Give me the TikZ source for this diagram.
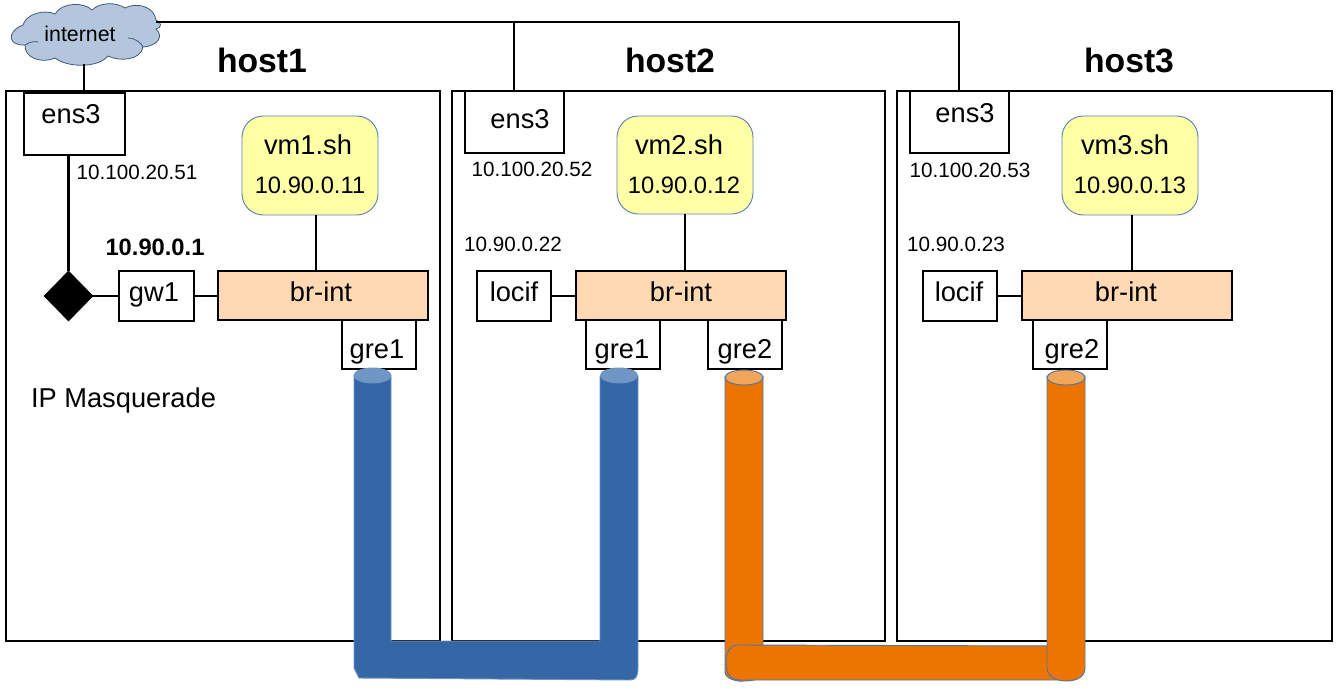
\documentclass[tikz,border=0pt]{standalone}
\usepackage{fontspec}
\setmainfont{Liberation Sans}
\usetikzlibrary{shapes.geometric}
\definecolor{bluetube}{HTML}{3566A5}
\definecolor{bluetop}{HTML}{7096C6}
\definecolor{bluerim}{HTML}{6F94C4}
\definecolor{orangetube}{HTML}{EB7500}
\definecolor{orangetop}{HTML}{F2A65A}
\definecolor{orangerim}{HTML}{4A76A8}
\definecolor{cloudfill}{HTML}{B3C6DE}
\definecolor{cloudline}{HTML}{3F5A7A}
\definecolor{vmfill}{HTML}{FFFFA6}
\definecolor{vmline}{HTML}{5B83B5}
\definecolor{brfill}{HTML}{FFD9B3}
\tikzset{
  bxbase/.style={draw=black,line width=1.1pt,inner sep=0pt,outer sep=0pt},
  plainbox/.style={bxbase,fill=white},
  hostbox/.style={bxbase,fill=none},
  brbox/.style={bxbase,fill=brfill},
  vmbox/.style={draw=vmline,line width=0.7pt,fill=vmfill,rounded corners=16pt,inner sep=0pt,outer sep=0pt},
  conn/.style={draw=black,line width=2pt},
  txtbase/.style={anchor=base,inner sep=0pt,text=black},
  lab/.style={txtbase,font=\fontsize{20.45pt}{24pt}\selectfont},
  ip/.style={txtbase,font=\fontsize{15.5pt}{18pt}\selectfont},
  vmip/.style={txtbase,font=\fontsize{17.8pt}{20pt}\selectfont},
  hostlab/.style={txtbase,font=\fontsize{25.3pt}{28pt}\selectfont\bfseries},
}
\newcommand{\bx}[6]{\node[#1,minimum width={(#4-#2)*0.75pt},minimum height={(#5-#3)*0.75pt}] (#6) at ({(#2+#4)/2},{(#3+#5)/2}) {};}
\begin{document}
\begin{tikzpicture}[x=0.75pt,y=-0.75pt]
\path[use as bounding box,fill=white] (0,0) rectangle (1344,691);

% host frames
\bx{hostbox}{6}{91}{440}{641}{host1}
\bx{hostbox}{452}{91}{885}{641}{host2}
\bx{hostbox}{897}{91}{1332}{641}{host3}

% cloud
\draw[draw=cloudline,line width=0.6pt,fill=cloudfill]
  (23,25) .. controls (26,14) and (44,9) .. (55,14)
  .. controls (62,2) and (84,2) .. (92,10)
  .. controls (100,2) and (116,2) .. (125,8)
  .. controls (136,2) and (154,6) .. (156,20)
  .. controls (162,22) and (162,28) .. (156,29)
  .. controls (164,36) and (158,46) .. (143,47)
  .. controls (141,60) and (120,62) .. (108,56)
  .. controls (98,68) and (68,68) .. (55,58)
  .. controls (42,64) and (24,58) .. (25,45)
  .. controls (8,46) and (6,32) .. (23,25) -- cycle;
\draw[draw=cloudline,line width=0.6pt] (25,45) .. controls (30,42) and (34,41) .. (38,42);
\draw[draw=cloudline,line width=0.6pt] (128,38) .. controls (136,38) and (142,44) .. (143,47);
\node[txtbase,font=\fontsize{16pt}{18pt}\selectfont] (internet) at (80,42) {internet};
\node[hostlab] (hostA) at (262,73) {host1};
\node[hostlab] (hostB) at (670,73) {host2};
\node[hostlab] (hostC) at (1129,73) {host3};

% boxes
\bx{plainbox}{24}{93}{125}{155}{ensA}
\bx{plainbox}{465}{91}{564}{153}{ensB}
\bx{plainbox}{910}{91}{1009}{153}{ensC}
\node[draw=black,fill=black,diamond,aspect=1,inner sep=0pt,outer sep=0pt,minimum width=36.75pt,minimum height=37.5pt] (masq) at (68.5,296) {};
\bx{plainbox}{119}{271}{194}{321}{gwA}
\bx{brbox}{218}{271}{428}{320}{brA}
\bx{plainbox}{342}{320}{416}{369}{greA}
\bx{vmbox}{242}{116}{378}{215}{vmA}
\bx{plainbox}{477}{271}{551}{321}{locB}
\bx{brbox}{576}{271}{786}{320}{brB}
\bx{plainbox}{586}{320}{660}{369}{greBa}
\bx{plainbox}{708}{320}{782}{369}{greBb}
\bx{vmbox}{617}{116}{753}{214}{vmB}
\bx{plainbox}{923}{271}{997}{321}{locC}
\bx{brbox}{1022}{271}{1232}{320}{brC}
\bx{plainbox}{1033}{320}{1107}{369}{greCb}
\bx{vmbox}{1062}{116}{1198}{215}{vmC}

% connectors
\coordinate (cloudR) at (156,22);
\coordinate (cloudS) at (84,64);
\coordinate (upA) at (84,93);
\coordinate (upB) at (514,91);
\coordinate (upC) at (959,91);
\coordinate (downA) at (68.5,155);
\coordinate (vmAx) at (316,271);
\coordinate (vmBx) at (685,271);
\coordinate (vmCx) at (1132,271);
\draw[conn] (cloudS) -- (upA);
\draw[conn] (cloudR) -- (cloudR -| upC) -- (upC);
\draw[conn] (cloudR -| upB) -- (upB);
\draw[conn] (downA) -- (masq.north);
\draw[conn] (masq.east) -- (gwA.west);
\draw[conn] (gwA.east) -- (gwA.east -| brA.west);
\draw[conn] (locB.east) -- (locB.east -| brB.west);
\draw[conn] (locC.east) -- (locC.east -| brC.west);
\draw[conn] (vmAx |- vmA.south) -- (vmAx);
\draw[conn] (vmBx |- vmB.south) -- (vmBx);
\draw[conn] (vmCx |- vmC.south) -- (vmCx);

% tubes
\draw[draw=bluerim,line width=0.7pt,fill=bluetube,line join=round]
  (354,376) -- (354,668) -- (359,678) -- (630,680) .. controls (636,680) and (638,676) .. (638,668)
  -- (638,376) -- (600,376) -- (600,641) -- (391,641) -- (391,376) -- cycle;
\draw[draw=bluerim,line width=0.7pt,fill=bluetop] (372.5,375.5) ellipse [x radius=18.5,y radius=7.5];
\draw[draw=bluerim,line width=0.7pt,fill=bluetop] (619,375.5) ellipse [x radius=18.5,y radius=7.5];

\draw[draw=orangerim,line width=0.7pt,fill=orangetube]
  (725,376) -- (725,672) .. controls (725,679) and (738,682) .. (744,681) .. controls (755,681) and (763,678) .. (763,672) -- (763,376) -- cycle;
\draw[draw=orangerim,line width=0.7pt,fill=orangetube]
  (738,645) -- (1062,646) -- (1062,680) -- (740,680) .. controls (730,680) and (726,674) .. (726,662) .. controls (726,652) and (730,645) .. (738,645) -- cycle;
\draw[draw=orangerim,line width=0.7pt,fill=orangetube]
  (1047,376) -- (1047,668) .. controls (1047,676) and (1056,681) .. (1066,681) .. controls (1078,681) and (1085,676) .. (1085,668) -- (1085,376) -- cycle;
\draw[draw=orangerim,line width=0.7pt,fill=orangetop] (744,377.5) ellipse [x radius=19,y radius=7.5];
\draw[draw=orangerim,line width=0.7pt,fill=orangetop] (1066,377.5) ellipse [x radius=19,y radius=7.5];

% texts
\node[lab] (tensA) at (71,124) {ens3};
\node[lab] (tensB) at (520,129) {ens3};
\node[lab] (tensC) at (965,123) {ens3};
\node[ip] (ipA) at (137,180) {10.100.20.51};
\node[ip] (ipB) at (532,177) {10.100.20.52};
\node[ip] (ipC) at (970,178) {10.100.20.53};
\node[lab] (tvmA) at (308,155) {vm1.sh};
\node[vmip] (tvmAip) at (310,194) {10.90.0.11};
\node[lab] (tvmB) at (679,155) {vm2.sh};
\node[vmip] (tvmBip) at (684,194) {10.90.0.12};
\node[lab] (tvmC) at (1125,155) {vm3.sh};
\node[vmip] (tvmCip) at (1130,194) {10.90.0.13};
\node[txtbase,font=\fontsize{17.8pt}{20pt}\selectfont\bfseries] (gwip) at (155,256) {10.90.0.1};
\node[ip] (ipLocB) at (513,252) {10.90.0.22};
\node[ip] (ipLocC) at (956,252) {10.90.0.23};
\node[lab] (tgwA) at (154,301) {gw1};
\node[lab] (tbrA) at (321,301) {br-int};
\node[lab] (tbrB) at (681,301) {br-int};
\node[lab] (tbrC) at (1126,301) {br-int};
\node[lab] (tlocB) at (514,301) {locif};
\node[lab] (tlocC) at (959,301) {locif};
\node[lab] (tgreA) at (377,358) {gre1};
\node[lab] (tgreBa) at (622,358) {gre1};
\node[lab] (tgreBb) at (745,358) {gre2};
\node[lab] (tgreCb) at (1072,358) {gre2};
\node[lab] (masqt) at (123.5,407) {IP Masquerade};
\end{tikzpicture}
\end{document}
